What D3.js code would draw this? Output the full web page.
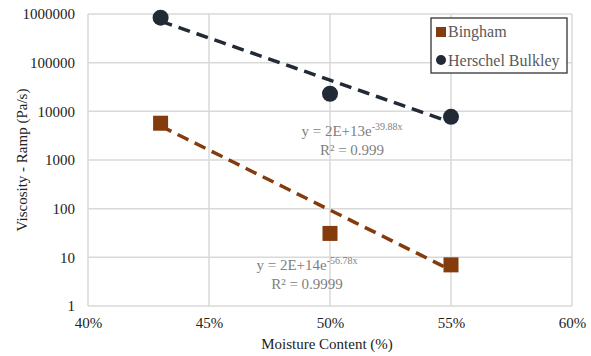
<!DOCTYPE html>
<html>
<head>
<meta charset="utf-8">
<script src="https://cdn.jsdelivr.net/npm/d3@7"></script>
<style>
  html, body { margin: 0; padding: 0; background: #fff; }
  svg { display: block; }
  svg text { font-family: "Liberation Serif", "Times New Roman", serif !important; }
</style>
</head>
<body>
<svg id="chart" width="591" height="356"></svg>
<script>
// Moisture content (fraction) for each sample
const moisture = [0.43, 0.50, 0.55];
// Ramp viscosity (Pa/s) per rheological model
const bingham = [5700, 31, 7];
const herschel = [840000, 23000, 7700];

// Exponential trendlines y = a * e^(b x), as labelled
const binghamFit = { a: 2e14, b: -56.78 };
const herschelFit = { a: 2e13, b: -39.88 };

const xTicks = [0.40, 0.45, 0.50, 0.55, 0.60];
const yTicks = [1, 10, 100, 1000, 10000, 100000, 1000000];

const brown = "#843c0c";
const navy = "#222a35";
const grid = "#d9d9d9";
const textGray = "#595959";

const svg = d3.select("#chart");
const plotLeft = 88, plotRight = 572, plotTop = 14, plotBottom = 306;

const x = d3.scaleLinear().domain([0.40, 0.60]).range([plotLeft, plotRight]);
const y = d3.scaleLog().domain([1, 1e6]).range([plotBottom, plotTop]);

// gridlines
svg.append("g").selectAll("line").data(yTicks).join("line")
  .attr("x1", plotLeft).attr("x2", plotRight)
  .attr("y1", d => y(d)).attr("y2", d => y(d))
  .attr("stroke", grid).attr("stroke-width", 1.5);
svg.append("g").selectAll("line").data(xTicks).join("line")
  .attr("y1", plotTop).attr("y2", plotBottom)
  .attr("x1", d => x(d)).attr("x2", d => x(d))
  .attr("stroke", grid).attr("stroke-width", 1.5);

// axes (labels only, lines are the gridlines)
const yAxis = d3.axisLeft(y).tickValues(yTicks).tickFormat(d3.format("d")).tickSize(0).tickPadding(13);
svg.append("g").attr("transform", `translate(${plotLeft},0)`).call(yAxis)
  .call(g => g.select(".domain").remove())
  .selectAll("text").attr("font-size", 15).attr("fill", "#222");

const xAxis = d3.axisBottom(x).tickValues(xTicks).tickFormat(d3.format(".0%")).tickSize(0).tickPadding(11);
svg.append("g").attr("transform", `translate(0,${plotBottom})`).call(xAxis)
  .call(g => g.select(".domain").remove())
  .selectAll("text").attr("font-size", 15).attr("fill", "#222");

// axis titles
svg.append("text").attr("x", (plotLeft + plotRight) / 2 - 3).attr("y", 349)
  .attr("text-anchor", "middle").attr("font-size", 15).attr("fill", "#222")
  .text("Moisture Content (%)");
svg.append("text").attr("transform", `translate(27,${(plotTop + plotBottom) / 2}) rotate(-90)`)
  .attr("text-anchor", "middle").attr("font-size", 15).attr("fill", "#222")
  .text("Viscosity - Ramp (Pa/s)");

// trendlines
function trend(fit) {
  const xs = d3.range(0.43, 0.5501, 0.005);
  return d3.line().x(d => x(d)).y(d => y(fit.a * Math.exp(fit.b * d)))(xs);
}
svg.append("path").attr("d", trend(herschelFit)).attr("fill", "none")
  .attr("stroke", navy).attr("stroke-width", 3.5).attr("stroke-dasharray", "12,7");
svg.append("path").attr("d", trend(binghamFit)).attr("fill", "none")
  .attr("stroke", brown).attr("stroke-width", 3.5).attr("stroke-dasharray", "12,7");

// markers
svg.append("g").selectAll("rect").data(moisture).join("rect")
  .attr("x", d => x(d) - 7.5).attr("y", (d, i) => y(bingham[i]) - 7.5)
  .attr("width", 15).attr("height", 15).attr("fill", brown);
svg.append("g").selectAll("circle").data(moisture).join("circle")
  .attr("cx", d => x(d)).attr("cy", (d, i) => y(herschel[i]))
  .attr("r", 8).attr("fill", navy);

// trendline equations
function equation(cx, yb, base, sup, r2) {
  const t = svg.append("text").attr("x", cx).attr("y", yb).attr("text-anchor", "middle")
    .attr("font-size", 15).attr("fill", "#7f7f7f");
  t.append("tspan").text(base);
  t.append("tspan").attr("dy", -6).attr("font-size", 10).text(sup);
  svg.append("text").attr("x", cx).attr("y", yb + 19).attr("text-anchor", "middle")
    .attr("font-size", 15).attr("fill", "#7f7f7f").text(r2);
}
equation(352, 136, "y = 2E+13e", "-39.88x", "R² = 0.999");
equation(307, 270, "y = 2E+14e", "-56.78x", "R² = 0.9999");

// legend
const lg = svg.append("g");
lg.append("rect").attr("x", 431).attr("y", 18).attr("width", 136).attr("height", 55)
  .attr("fill", "#fff").attr("stroke", "#333").attr("stroke-width", 1.3);
lg.append("rect").attr("x", 436).attr("y", 27).attr("width", 10).attr("height", 10).attr("fill", brown);
lg.append("text").attr("x", 448).attr("y", 37).attr("font-size", 16).attr("fill", textGray).text("Bingham");
lg.append("circle").attr("cx", 441).attr("cy", 60).attr("r", 5).attr("fill", navy);
lg.append("text").attr("x", 448).attr("y", 65.5).attr("font-size", 16).attr("fill", textGray).text("Herschel Bulkley");
</script>
</body>
</html>
